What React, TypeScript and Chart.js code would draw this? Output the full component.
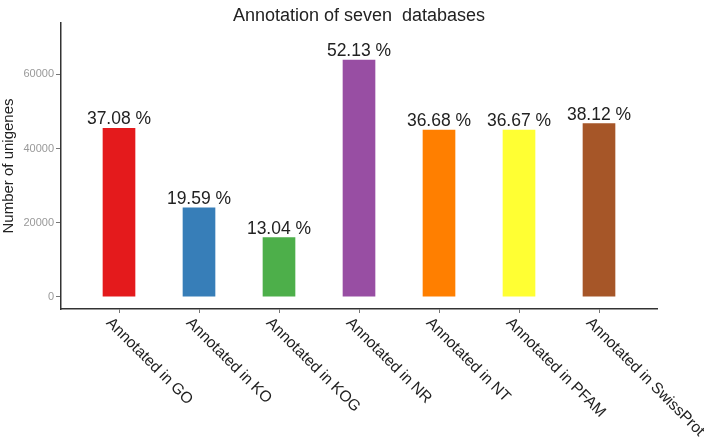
import React, { useEffect, useRef } from "react";
import { Chart, registerables } from "chart.js";

Chart.register(...registerables);

const categories = [
  "Annotated in GO",
  "Annotated in KO",
  "Annotated in KOG",
  "Annotated in NR",
  "Annotated in NT",
  "Annotated in PFAM",
  "Annotated in SwissProt",
];
const unigeneCounts = [45443, 24008, 15981, 63887, 44952, 44940, 46717];
const percentLabels = ["37.08 %", "19.59 %", "13.04 %", "52.13 %", "36.68 %", "36.67 %", "38.12 %"];
const barColors = ["#E41A1C", "#377EB8", "#4DAF4A", "#984EA3", "#FF7F00", "#FFFF33", "#A65628"];
const yTickValues = [0, 20000, 40000, 60000];
const titleText = "Annotation of seven  databases";
const yAxisTitle = "Number of unigenes";

const FONT = "'Liberation Sans', Arial, sans-serif";

const overlayPlugin = {
  id: "overlay",
  afterDatasetsDraw(chart: any) {
    const ctx = chart.ctx;
    const meta = chart.getDatasetMeta(0);
    ctx.save();
    ctx.fillStyle = "#222";
    ctx.font = `17.5px ${FONT}`;
    ctx.textAlign = "center";
    ctx.textBaseline = "bottom";
    meta.data.forEach((bar: any, i: number) => {
      ctx.fillText(percentLabels[i], bar.x, bar.y);
    });
    ctx.restore();
  },
  afterDraw(chart: any) {
    const ctx = chart.ctx;
    const xs = chart.scales.x;
    const area = chart.chartArea;
    ctx.save();
    ctx.fillStyle = "#222";
    ctx.font = `15.5px ${FONT}`;
    ctx.textAlign = "left";
    ctx.textBaseline = "top";
    categories.forEach((c, i) => {
      const px = xs.getPixelForValue(i);
      ctx.save();
      ctx.translate(px - 5, xs.top + 6);
      ctx.rotate(Math.PI / 4);
      ctx.fillText(c, 0, 0);
      ctx.restore();
    });
    ctx.font = `18px ${FONT}`;
    ctx.textAlign = "center";
    ctx.textBaseline = "middle";
    ctx.fillText(titleText, (area.left + area.right) / 2, 16);
    ctx.restore();
  },
};

export default function App() {
  const ref = useRef<HTMLCanvasElement>(null);
  useEffect(() => {
    if (!ref.current) return;
    const chart = new Chart(ref.current, {
      type: "bar",
      data: {
        datasets: [
          {
            data: unigeneCounts.map((v, i) => ({ x: i, y: v })),
            backgroundColor: barColors,
            barThickness: 32,
          },
        ],
      },
      options: {
        responsive: false,
        animation: false,
        layout: { padding: { top: 23, right: 47, left: 0, bottom: 0 } },
        plugins: { legend: { display: false }, tooltip: { enabled: false }, title: { display: false } },
        scales: {
          x: {
            type: "linear",
            offset: false,
            min: -0.725,
            max: 6.725,
            ticks: { display: false, stepSize: 1, includeBounds: false },
            grid: { display: true, offset: false, drawOnChartArea: false, drawTicks: true, tickLength: 4, color: "#777" },
            border: { display: true, color: "#333", width: 1.5 },
            afterFit: (s: any) => {
              s.height = 441 - 309;
            },
          },
          y: {
            min: -3320,
            max: 73870,
            afterBuildTicks: (s: any) => {
              s.ticks = yTickValues.map((v) => ({ value: v }));
            },
            ticks: {
              color: "#999",
              font: { family: FONT, size: 11 },
              padding: 2,
              callback: (v: any) => String(v),
            },
            title: {
              display: true,
              text: yAxisTitle,
              color: "#222",
              font: { family: FONT, size: 15 },
              padding: { top: 0, bottom: 0 },
            },
            grid: { display: true, drawOnChartArea: false, drawTicks: true, tickLength: 5, color: "#777" },
            border: { display: true, color: "#333", width: 1.5 },
            afterFit: (s: any) => {
              s.width = 61;
            },
          },
        },
      },
      plugins: [overlayPlugin],
    });
    return () => chart.destroy();
  }, []);
  return (
    <div style={{ position: "fixed", left: 0, top: 0, width: 704, height: 441, background: "#fff" }}>
      <canvas ref={ref} width={704} height={441} style={{ display: "block" }} />
    </div>
  );
}
